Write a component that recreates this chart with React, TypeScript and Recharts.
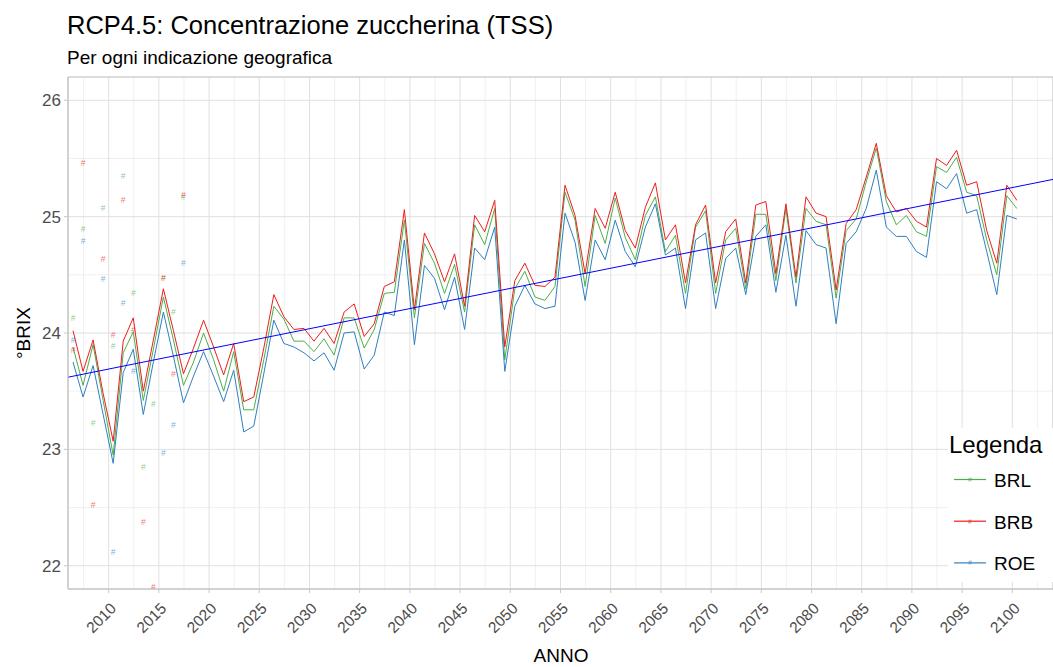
import { CartesianGrid, ComposedChart, Legend, Line, ReferenceArea, Scatter, XAxis, YAxis } from 'recharts'

// yearly projections, 2006..2100
const FIRST_YEAR = 2006
const YEARS = Array.from({ length: 95 }, (_, i) => FIRST_YEAR + i)

const BRL = [
  23.88, 23.55, 23.9, 23.42, 22.95, 23.83, 24.01, 23.42, 23.86, 24.31,
  23.94, 23.55, 23.75, 24.0, 23.77, 23.5, 23.84, 23.34, 23.34, 23.77,
  24.23, 24.12, 23.93, 23.93, 23.84, 23.95, 23.81, 24.13, 24.13, 23.87,
  24.03, 24.34, 24.35, 24.97, 24.13, 24.77, 24.6, 24.34, 24.59, 24.18,
  24.93, 24.76, 25.07, 23.77, 24.38, 24.53, 24.31, 24.28, 24.4, 25.21,
  24.97, 24.4, 25.01, 24.77, 25.16, 24.82, 24.63, 25.01, 25.17, 24.7,
  24.84, 24.34, 24.91, 25.05, 24.34, 24.8, 24.9, 24.38, 25.02, 25.02,
  24.45, 25.07, 24.43, 25.07, 24.96, 24.93, 24.3, 24.88, 24.98, 25.3,
  25.59, 25.13, 24.93, 25.01, 24.87, 24.83, 25.43, 25.38, 25.51, 25.21,
  25.18, 24.8, 24.5, 25.18, 25.07,
]
const BRB = [
  24.02, 23.67, 23.94, 23.48, 23.07, 23.93, 24.13, 23.5, 23.94, 24.38,
  24.02, 23.65, 23.87, 24.11, 23.88, 23.64, 23.91, 23.41, 23.45, 23.87,
  24.33, 24.14, 24.03, 24.04, 23.93, 24.04, 23.91, 24.18, 24.25, 23.97,
  24.08, 24.4, 24.44, 25.06, 24.2, 24.86, 24.68, 24.44, 24.68, 24.23,
  25.01, 24.87, 25.14, 23.88, 24.45, 24.6, 24.41, 24.4, 24.48, 25.27,
  25.01, 24.51, 25.07, 24.9, 25.21, 24.88, 24.73, 25.08, 25.29, 24.8,
  24.93, 24.43, 24.93, 25.1, 24.43, 24.87, 24.98, 24.43, 25.1, 25.13,
  24.51, 25.11, 24.48, 25.17, 25.03, 25.0, 24.37, 24.94, 25.06, 25.34,
  25.63, 25.18, 25.04, 25.07, 24.96, 24.91, 25.5, 25.44, 25.57, 25.27,
  25.3, 24.88, 24.6, 25.27, 25.14,
]
const ROE = [
  23.75, 23.45, 23.72, 23.3, 22.88, 23.66, 23.86, 23.3, 23.75, 24.18,
  23.8, 23.4, 23.63, 23.84, 23.63, 23.41, 23.68, 23.15, 23.2, 23.65,
  24.11, 23.91, 23.88, 23.83, 23.76, 23.83, 23.68, 24.0, 24.01, 23.69,
  23.81, 24.18, 24.15, 24.8, 23.9, 24.58, 24.47, 24.2, 24.48, 24.03,
  24.73, 24.63, 24.91, 23.67, 24.23, 24.41, 24.25, 24.21, 24.23, 25.03,
  24.78, 24.28, 24.8, 24.63, 24.97, 24.7, 24.57, 24.91, 25.11, 24.67,
  24.73, 24.21, 24.8, 24.86, 24.21, 24.64, 24.73, 24.33, 24.83, 24.93,
  24.35, 24.84, 24.23, 24.88, 24.76, 24.73, 24.08, 24.77, 24.87, 25.07,
  25.4, 24.91, 24.83, 24.83, 24.7, 24.65, 25.3, 25.24, 25.37, 25.03,
  25.06, 24.7, 24.33, 25.01, 24.98,
]

// observed values (null = not shown)
const OBS_YEARS = [2006, 2007, 2008, 2009, 2010, 2011, 2012, 2013, 2014, 2015, 2016, 2017]
const BRL_OBS = [24.13, 24.89, 23.23, 25.07, 23.89, 25.35, 24.34, 22.85, 23.39, 24.47, 24.18, 25.17]
const BRB_OBS = [23.85, 25.46, 22.52, 24.64, 23.98, 25.14, 24.03, 22.38, 21.82, 24.47, 23.65, 25.19]
const ROE_OBS = [23.94, 24.79, null, 24.46, 22.12, 24.26, 23.67, null, null, 22.97, 23.21, 24.6]

// linear trend, value at left and right edge of the panel
const TREND_ENDS = [23.62, 25.32]

const X_DOMAIN: [number, number] = [2005.95, 2104.05]
const Y_DOMAIN: [number, number] = [21.8, 26.2]
const X_TICKS = [2010, 2015, 2020, 2025, 2030, 2035, 2040, 2045, 2050, 2055, 2060, 2065, 2070, 2075, 2080, 2085, 2090, 2095, 2100]
const X_MINOR = [2007.5, 2012.5, 2017.5, 2022.5, 2027.5, 2032.5, 2037.5, 2042.5, 2047.5, 2052.5, 2057.5, 2062.5, 2067.5, 2072.5, 2077.5, 2082.5, 2087.5, 2092.5, 2097.5, 2102.5]
const Y_TICKS = [22, 23, 24, 25, 26]
const Y_MINOR = [22.5, 23.5, 24.5, 25.5]
const MID_YEAR = 0.45 // dates sit around mid-year

const SERIES = [
  { key: 'brl', name: 'BRL', color: '#4daf4a', obs: BRL_OBS },
  { key: 'brb', name: 'BRB', color: '#ee1c1c', obs: BRB_OBS },
  { key: 'roe', name: 'ROE', color: '#2f7fc1', obs: ROE_OBS },
]

const FONT = '"Liberation Sans", Arial, sans-serif'
const GREY = '#4d4d4d'

const data = YEARS.map((y, i) => ({ x: y + MID_YEAR, brl: BRL[i], brb: BRB[i], roe: ROE[i] }))
const trendData = [
  { x: X_DOMAIN[0], v: TREND_ENDS[0] },
  { x: X_DOMAIN[1], v: TREND_ENDS[1] },
]
const obsData = (vals: (number | null)[]) =>
  OBS_YEARS.map((y, i) => ({ x: y + MID_YEAR, v: vals[i] })).filter((d) => d.v != null)

function XTick({ x, y, payload }: any) {
  const ax = x + 8.5
  const ay = y + 16.5
  return (
    <text x={ax} y={ay} transform={`rotate(-45 ${ax} ${ay})`} textAnchor="end" fontSize={15.5} fill={GREY} fontFamily={FONT}>
      {payload.value}
    </text>
  )
}

const hashShape = (color: string) => (props: any) => (
  <text x={props.cx} y={props.cy + 3} textAnchor="middle" fontSize={8.5} fill={color} fillOpacity={0.65} fontFamily={FONT}>
    #
  </text>
)

function LegendBox() {
  return (
    <svg width={105} height={154} style={{ display: 'block' }}>
      <rect x={0} y={0} width={105} height={154} fill="#fff" />
      <text x={1} y={24.5} fontSize={24} fontFamily={FONT} fill="#000">Legenda</text>
      {SERIES.map((s, i) => {
        const cy = 51.5 + i * 41.7
        return (
          <g key={s.key}>
            <line x1={6} x2={38} y1={cy} y2={cy} stroke={s.color} strokeWidth={1.2} />
            <text x={22} y={cy + 2.5} textAnchor="middle" fontSize={7} fill={s.color} fillOpacity={0.7}>#</text>
            <text x={46} y={cy + 7.3} fontSize={19} fontFamily={FONT} fill="#000">{s.name}</text>
          </g>
        )
      })}
    </svg>
  )
}

export default function App() {
  return (
    <div style={{ position: 'relative', width: 1053, height: 667, background: '#fff', fontFamily: FONT }}>
      <style>{'body{margin:0}'}</style>
      <ComposedChart width={1053} height={667} data={data} margin={{ top: 77, right: 0, bottom: 0, left: 0 }}>
        <CartesianGrid stroke="#ececec" strokeWidth={0.8} verticalValues={X_MINOR} horizontalValues={Y_MINOR} />
        <CartesianGrid stroke="#e0e0e0" strokeWidth={1} />
        <XAxis
          dataKey="x"
          type="number"
          domain={X_DOMAIN}
          ticks={X_TICKS}
          allowDataOverflow
          height={78}
          tickSize={4}
          tickMargin={0}
          tick={<XTick />}
          stroke="#c8c8c8"
        />
        <YAxis
          type="number"
          domain={Y_DOMAIN}
          ticks={Y_TICKS}
          allowDataOverflow
          width={68}
          tickSize={4}
          tickMargin={3}
          stroke="#c8c8c8"
          tick={{ fill: GREY, fontSize: 17, fontFamily: FONT }}
        />
        <ReferenceArea x1={X_DOMAIN[0]} x2={X_DOMAIN[1]} y1={Y_DOMAIN[0]} y2={Y_DOMAIN[1]} fill="none" stroke="#c8c8c8" />
        {SERIES.map((s) => (
          <Line key={s.key} dataKey={s.key} name={s.name} stroke={s.color} strokeWidth={1} dot={false} type="linear" isAnimationActive={false} />
        ))}
        {SERIES.map((s) => (
          <Scatter key={s.key + '-obs'} data={obsData(s.obs)} dataKey="v" shape={hashShape(s.color)} isAnimationActive={false} />
        ))}
        <Line data={trendData} dataKey="v" stroke="#0000ff" strokeWidth={1} dot={false} type="linear" isAnimationActive={false} />
        <Legend
          layout="horizontal"
          verticalAlign="middle"
          align="center"
          content={() => <LegendBox />}
          wrapperStyle={{ left: 948, top: 428, width: 105, height: 154 }}
        />
      </ComposedChart>
      <svg width={1053} height={667} style={{ position: 'absolute', left: 0, top: 0, pointerEvents: 'none' }}>
        <text x={67} y={34} fontSize={25.5} fontFamily={FONT} fill="#000">RCP4.5: Concentrazione zuccherina (TSS)</text>
        <text x={67} y={64} fontSize={19} fontFamily={FONT} fill="#000">Per ogni indicazione geografica</text>
        <text x={561} y={662} textAnchor="middle" fontSize={19} fontFamily={FONT} fill="#000">ANNO</text>
        <text x={30} y={333} transform="rotate(-90 30 333)" textAnchor="middle" fontSize={19} fontFamily={FONT} fill="#000">°BRIX</text>
      </svg>
    </div>
  )
}
